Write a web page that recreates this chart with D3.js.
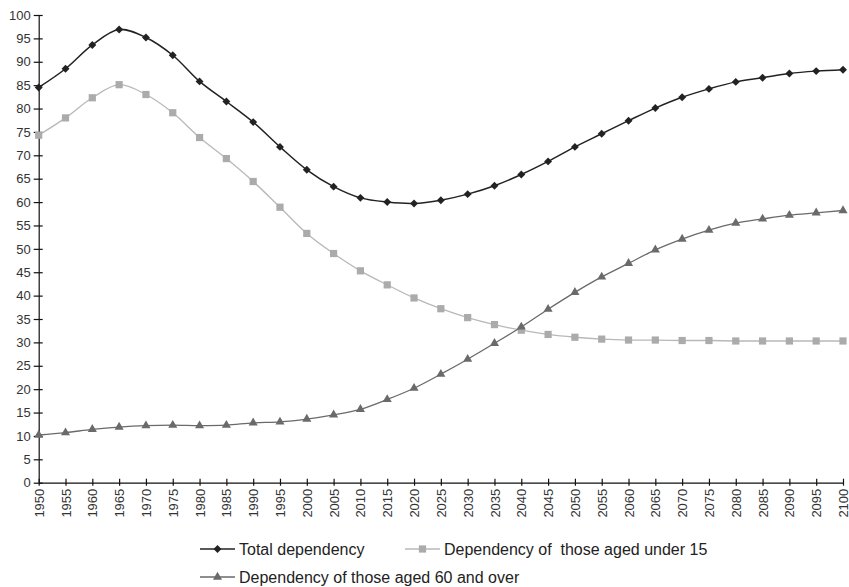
<!DOCTYPE html>
<html>
<head>
<meta charset="utf-8">
<script src="https://cdn.jsdelivr.net/npm/d3@7"></script>
<style>
  html, body { margin: 0; padding: 0; background: #fff; }
  svg { display: block; font-family: "Liberation Sans", Arial, sans-serif; }
</style>
</head>
<body>
<svg id="chart" width="849" height="587"></svg>
<script>
const years = [1950,1955,1960,1965,1970,1975,1980,1985,1990,1995,2000,2005,2010,2015,2020,2025,2030,2035,2040,2045,2050,2055,2060,2065,2070,2075,2080,2085,2090,2095,2100];
const totalDependency = [84.5,88.5,93.6,96.9,95.2,91.4,85.8,81.5,77.1,71.8,66.9,63.3,60.9,60.0,59.7,60.4,61.7,63.5,65.9,68.7,71.8,74.6,77.4,80.1,82.4,84.2,85.7,86.6,87.5,88.0,88.3];
const under15Dependency = [74.3,78.0,82.3,85.1,83.0,79.1,73.8,69.3,64.4,58.9,53.3,49.0,45.3,42.3,39.5,37.2,35.3,33.8,32.6,31.7,31.1,30.7,30.5,30.5,30.4,30.4,30.3,30.3,30.3,30.3,30.3];
const over60Dependency = [10.2,10.7,11.4,11.9,12.2,12.3,12.2,12.3,12.8,13.0,13.6,14.5,15.7,17.8,20.2,23.2,26.4,29.8,33.3,37.1,40.7,44.0,46.9,49.8,52.1,54.0,55.5,56.4,57.2,57.7,58.2];
const yTicks = [0,5,10,15,20,25,30,35,40,45,50,55,60,65,70,75,80,85,90,95,100];
const seriesNames = ["Total dependency", "Dependency of  those aged under 15", "Dependency of those aged 60 and over"];

const series = [
  {name: seriesNames[0], values: totalDependency, line: "#222222", fill: "#222222", width: 1.5, symbol: d3.symbolDiamond2, size: 40},
  {name: seriesNames[1], values: under15Dependency, line: "#b8b8b8", fill: "#ababab", width: 1.3, symbol: d3.symbolSquare, size: 52},
  {name: seriesNames[2], values: over60Dependency, line: "#6a6a6a", fill: "#6a6a6a", width: 1.3, symbol: d3.symbolTriangle, size: 36}
];

const svg = d3.select("#chart");
const x = d3.scaleLinear().domain([1950, 2100]).range([38.7, 843]);
const y = d3.scaleLinear().domain([0, 100]).range([482.7, 15]);

// Y axis
const yAxis = svg.append("g")
  .attr("transform", `translate(${x(1950)},0)`)
  .call(d3.axisLeft(y).tickValues(yTicks).tickSize(5).tickPadding(3).tickSizeOuter(0));
yAxis.selectAll(".tick line").attr("x2", -5).attr("x1", 4);
yAxis.selectAll("text").attr("font-size", 13).attr("fill", "#333").attr("font-family", "Liberation Sans, Arial, sans-serif");
yAxis.selectAll("path, line").attr("stroke", "#111").attr("stroke-width", 1.2);

// X axis
const xAxis = svg.append("g")
  .attr("transform", `translate(0,${y(0)})`)
  .call(d3.axisBottom(x).tickValues(years).tickFormat(d3.format("d")).tickSize(3).tickSizeOuter(0));
xAxis.selectAll(".tick line").attr("y1", -4).attr("y2", 3);
xAxis.selectAll("path, line").attr("stroke", "#111").attr("stroke-width", 1.2);
xAxis.selectAll("text")
  .attr("font-size", 13).attr("fill", "#333").attr("font-family", "Liberation Sans, Arial, sans-serif")
  .attr("transform", "rotate(-90)")
  .attr("text-anchor", "end")
  .attr("x", -6).attr("y", 0).attr("dy", "0.35em");

// Lines and markers
const line = d3.line()
  .x((d, i) => x(years[i]))
  .y(d => y(d))
  .curve(d3.curveCatmullRom.alpha(0.5));

series.forEach(s => {
  svg.append("path")
    .datum(s.values)
    .attr("fill", "none")
    .attr("stroke", s.line)
    .attr("stroke-width", s.width)
    .attr("d", line);
  svg.append("g").selectAll("path")
    .data(s.values)
    .join("path")
    .attr("transform", (d, i) => `translate(${x(years[i])},${y(d)})`)
    .attr("d", d3.symbol().type(s.symbol).size(s.size))
    .attr("fill", s.fill);
});

// Legend
const legendPos = [
  {lx: 200, ly: 549},
  {lx: 405, ly: 549},
  {lx: 200, ly: 577}
];
series.forEach((s, i) => {
  const p = legendPos[i];
  const g = svg.append("g").attr("transform", `translate(${p.lx},${p.ly})`);
  g.append("line").attr("x1", 0).attr("x2", 35).attr("y1", 0).attr("y2", 0)
    .attr("stroke", s.line).attr("stroke-width", s.width);
  g.append("path").attr("transform", "translate(17.5,0)")
    .attr("d", d3.symbol().type(s.symbol).size(s.size)).attr("fill", s.fill);
  g.append("text").attr("x", 39).attr("y", 0).attr("dy", "0.35em")
    .attr("font-size", 16).attr("fill", "#222")
    .style("white-space", "pre")
    .text(s.name);
});
</script>
</body>
</html>
